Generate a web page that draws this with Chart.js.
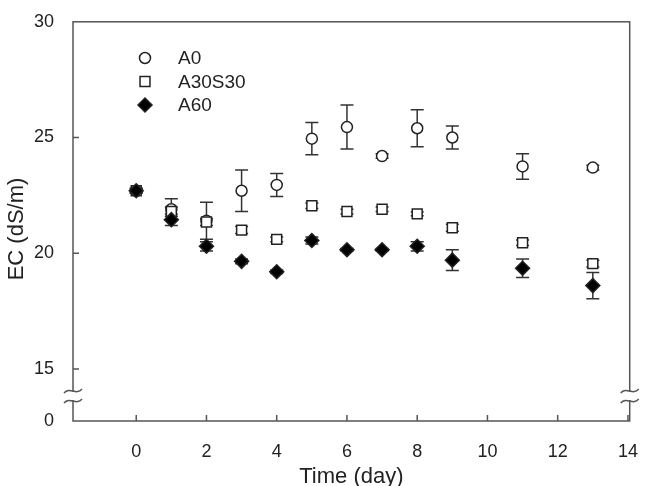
<!DOCTYPE html>
<html>
<head>
<meta charset="utf-8">
<script src="https://cdn.jsdelivr.net/npm/chart.js@4"></script>
<style>
body { margin: 0; background: #fff; }
#wrap { width: 650px; height: 486px; }
</style>
</head>
<body>
<div id="wrap"><canvas id="myChart" width="650" height="486"></canvas></div>
<script>
// data
const days = [0, 1, 2, 3, 4, 5, 6, 7, 8, 9, 11, 13];
const a0 = [22.7, 21.9, 21.4, 22.7, 22.95, 24.95, 25.45, 24.2, 25.4, 25.0, 23.75, 23.7];
const a0Err = [0.1, 0.45, 0.8, 0.9, 0.5, 0.7, 0.95, 0.1, 0.8, 0.5, 0.55, 0.1];
const a30s30 = [22.7, 21.8, 21.35, 21.0, 20.6, 22.05, 21.8, 21.9, 21.7, 21.1, 20.45, 19.55];
const a30s30Err = [0.1, 0.2, 0.15, 0.15, 0.1, 0.12, 0.1, 0.1, 0.08, 0.15, 0.12, 0.15];
const a60 = [22.7, 21.45, 20.3, 19.65, 19.2, 20.55, 20.15, 20.15, 20.3, 19.7, 19.35, 18.6];
const a60Err = [0.1, 0.25, 0.2, 0.1, 0.08, 0.15, 0.05, 0.05, 0.2, 0.45, 0.4, 0.57];

const seriesNames = ['A0', 'A30S30', 'A60'];
const xTicks = [0, 2, 4, 6, 8, 10, 12, 14];
const yTicks = [12.75, 15, 20, 25, 30];
const yTickLabels = ['0', '15', '20', '25', '30'];
const yBreak = 13.83;

const FONT = 'Liberation Sans, Arial, Helvetica, sans-serif';
const INK = '#222';
const LINE = '#555';

function toPoints(vals) {
    return days.map((d, i) => ({ x: d, y: vals[i] }));
}

const errs = [a0Err, a30s30Err, a60Err];

const marker = [
    { pointStyle: 'circle', radius: 5.5, fill: '#fff' },
    { pointStyle: 'rect', radius: 7, fill: '#fff' },
    { pointStyle: 'rectRot', radius: 7, fill: '#000' }
];

function tilde(ctx, x, y) {
    ctx.beginPath();
    ctx.moveTo(x - 9, y + 2);
    ctx.bezierCurveTo(x - 3, y - 5, x + 3, y + 5, x + 9, y - 2);
    ctx.stroke();
}

const extras = {
    id: 'extras',
    beforeDatasetsDraw(chart) {
        const { ctx, scales: { x, y } } = chart;
        ctx.save();
        ctx.strokeStyle = '#333';
        ctx.lineWidth = 1.5;
        errs.forEach((err, k) => {
            const vals = chart.data.datasets[k].data;
            vals.forEach((p, i) => {
                const px = x.getPixelForValue(p.x);
                const top = y.getPixelForValue(p.y + err[i]);
                const bot = y.getPixelForValue(p.y - err[i]);
                ctx.beginPath();
                ctx.moveTo(px, top); ctx.lineTo(px, bot);
                ctx.moveTo(px - 6.5, top); ctx.lineTo(px + 6.5, top);
                ctx.moveTo(px - 6.5, bot); ctx.lineTo(px + 6.5, bot);
                ctx.stroke();
            });
        });
        ctx.restore();
    },
    afterDraw(chart) {
        const { ctx, chartArea: a, scales: { x, y } } = chart;
        ctx.save();
        ctx.strokeStyle = LINE;
        ctx.lineWidth = 1.5;
        ctx.strokeRect(a.left, a.top, a.right - a.left, a.bottom - a.top);

        // inward ticks
        ctx.beginPath();
        xTicks.forEach(v => {
            const px = x.getPixelForValue(v);
            ctx.moveTo(px, a.bottom); ctx.lineTo(px, a.bottom - 6);
        });
        yTicks.slice(1, -1).forEach(v => {
            const py = y.getPixelForValue(v);
            ctx.moveTo(a.left, py); ctx.lineTo(a.left + 6, py);
        });
        ctx.stroke();

        // axis break
        const by = y.getPixelForValue(yBreak);
        ctx.fillStyle = '#fff';
        ctx.fillRect(a.left - 3, by - 4, 6, 8);
        ctx.fillRect(a.right - 3, by - 4, 6, 8);
        [a.left, a.right].forEach(bx => {
            tilde(ctx, bx, by - 5);
            tilde(ctx, bx, by + 5);
        });

        // legend
        ctx.font = '19px ' + FONT;
        ctx.textBaseline = 'middle';
        ctx.textAlign = 'left';
        seriesNames.forEach((name, k) => {
            const ly = 58 + k * 23.5;
            const m = marker[k];
            ctx.fillStyle = m.fill;
            ctx.strokeStyle = '#222';
            ctx.lineWidth = 1.5;
            Chart.helpers.drawPoint(ctx, { pointStyle: m.pointStyle, radius: m.radius, borderWidth: 1.5, rotation: 0 }, 145, ly);
            ctx.fillStyle = INK;
            ctx.fillText(name, 178, ly + 1);
        });

        // axis titles
        ctx.font = '22px ' + FONT;
        ctx.fillStyle = INK;
        ctx.textAlign = 'center';
        ctx.textBaseline = 'alphabetic';
        ctx.fillText('Time (day)', (a.left + a.right) / 2, 483);
        ctx.translate(23, 229);
        ctx.rotate(-Math.PI / 2);
        ctx.fillText('EC (dS/m)', 0, 0);
        ctx.restore();
    }
};

function makeSet(label, vals, k) {
    return {
        label: label,
        data: toPoints(vals),
        order: 2 - k,
        showLine: false,
        pointStyle: marker[k].pointStyle,
        pointRadius: marker[k].radius,
        pointHoverRadius: marker[k].radius,
        pointBackgroundColor: marker[k].fill,
        pointBorderColor: '#222',
        pointBorderWidth: 1.5
    };
}

new Chart(document.getElementById('myChart'), {
    type: 'scatter',
    data: {
        datasets: [
            makeSet('A0', a0, 0),
            makeSet('A30S30', a30s30, 1),
            makeSet('A60', a60, 2)
        ]
    },
    options: {
        responsive: false,
        animation: false,
        devicePixelRatio: 1,
        layout: { padding: { top: 15, right: 14, left: 0, bottom: 0 } },
        plugins: { legend: { display: false }, tooltip: { enabled: false } },
        scales: {
            x: {
                type: 'linear',
                min: -1.8,
                max: 14.05,
                afterBuildTicks: s => { s.ticks = xTicks.map(v => ({ value: v })); },
                afterFit: s => { s.height = 65; },
                grid: { display: false },
                border: { display: false },
                ticks: { padding: 12, color: INK, font: { size: 18, family: FONT } }
            },
            y: {
                type: 'linear',
                min: 12.75,
                max: 30,
                afterBuildTicks: s => { s.ticks = yTicks.map(v => ({ value: v })); },
                afterFit: s => { s.width = 73; },
                grid: { display: false },
                border: { display: false },
                ticks: {
                    padding: 11,
                    color: INK,
                    font: { size: 18, family: FONT },
                    callback: (v, i) => yTickLabels[i]
                }
            }
        }
    },
    plugins: [extras]
});
</script>
</body>
</html>
